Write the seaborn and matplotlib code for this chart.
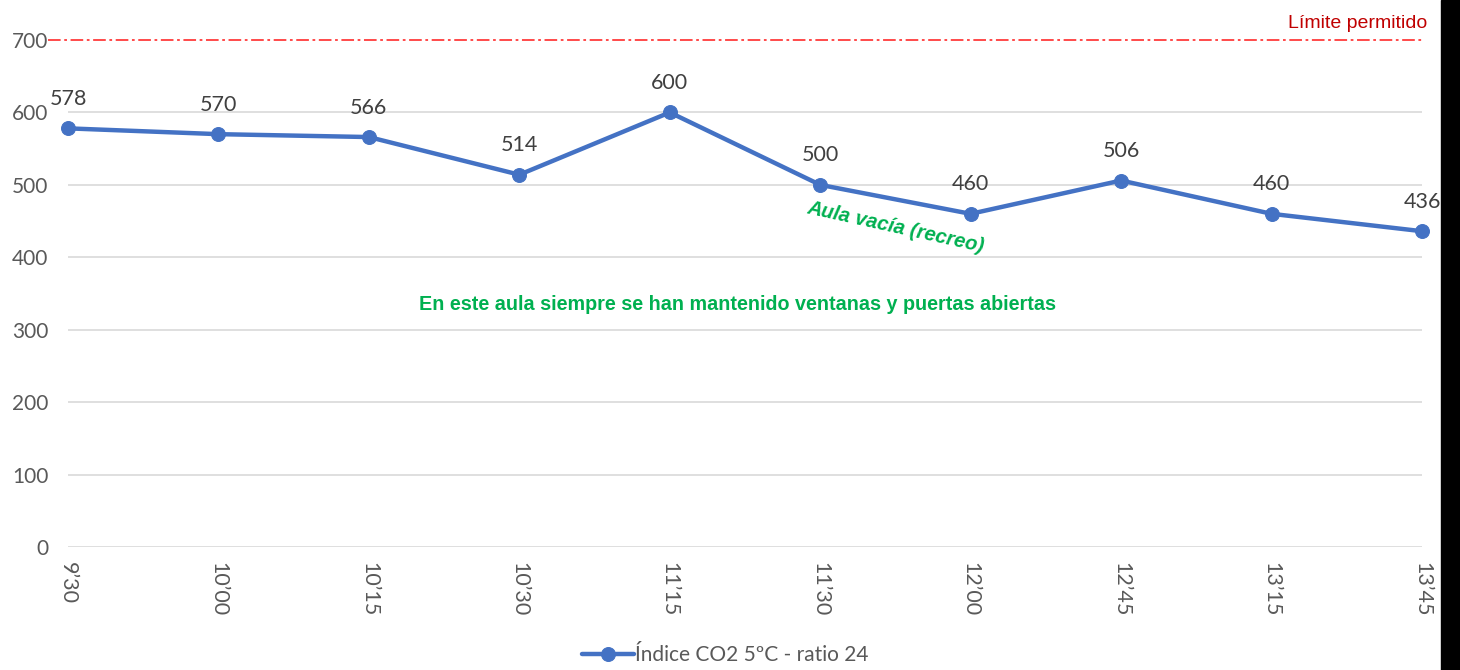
import pandas as pd
import matplotlib.pyplot as plt
import seaborn as sns
from matplotlib.patches import Rectangle

# data
horas = ["9’30", "10’00", "10’15", "10’30", "11’15", "11’30", "12’00", "12’45", "13’15", "13’45"]
co2 = [578, 570, 566, 514, 600, 500, 460, 506, 460, 436]
limite = 700
serie = "Índice CO2 5ºC - ratio 24"

df = pd.DataFrame({"pos": range(len(horas)), "ppm": co2, "serie": serie})

sns.set_style("white")
plt.rcParams['font.family'] = ['Lato', 'DejaVu Sans']

fig = plt.figure(figsize=(14.6, 6.7), dpi=100)
ax = fig.add_axes([68 / 1460, 1 - 547 / 670, (1422 - 68) / 1460, (547 - 40) / 670])

blue = "#4472C4"
grey_txt = "#595959"
arial = ['Liberation Sans', 'DejaVu Sans']

sns.lineplot(data=df, x="pos", y="ppm", ax=ax, color=blue, linewidth=3.2,
             marker="o", markersize=10, markeredgecolor=blue, label=serie,
             clip_on=False, zorder=5)

# gridlines
for v in range(0, 700, 100):
    ax.axhline(v, color="#d9d9d9", linewidth=1.2, zorder=1)

# limit line
ax.plot([-0.135, 9], [limite, limite], color="#FF3B3B", linewidth=1.3,
        linestyle=(0, (7, 2, 1.5, 2)), clip_on=False, zorder=3)
ax.text(9.035, limite + 11, "Límite permitido", color="#C00000", fontsize=14,
        family=arial, ha="right", va="bottom")

# value labels
for i, v in enumerate(co2):
    ax.annotate(str(v), (i, v), xytext=(0, 14), textcoords="offset points",
                ha="center", va="bottom", fontsize=15.5, color="#404040")

ax.set_xlim(0, 9)
ax.set_ylim(0, 700)
ax.set_xticks(range(len(horas)))
ax.set_xticklabels(horas, rotation=-90, fontsize=15.5, color=grey_txt)
ax.set_yticks(range(0, 800, 100))
ax.set_yticklabels([str(v) for v in range(0, 800, 100)], fontsize=15, color=grey_txt)
ax.tick_params(axis="x", length=0, pad=11)
ax.tick_params(axis="y", length=0, pad=14)
ax.set_xlabel("")
ax.set_ylabel("")
for s in ax.spines.values():
    s.set_visible(False)

# annotations
ax.text(5.5, 442, "Aula vacía (recreo)", color="#00B050", fontsize=14.5,
        fontweight="bold", fontstyle="italic", rotation=-12.5,
        family=arial, ha="center", va="center")
ax.text(4.45, 335, "En este aula siempre se han mantenido ventanas y puertas abiertas",
        color="#00B050", fontsize=14.2, fontweight="bold",
        family=arial, ha="center", va="center")

leg = ax.legend(loc="center", bbox_to_anchor=(725 / 1460, 1 - 655 / 670),
                bbox_transform=fig.transFigure, frameon=False, fontsize=15,
                handlelength=2.5, handletextpad=0.05)
for t in leg.get_texts():
    t.set_color(grey_txt)

# black band on the right edge
fig.patches.append(Rectangle((1441 / 1460, 0), 19 / 1460, 1, transform=fig.transFigure,
                             color="black", zorder=10))

fig.savefig("out.png", dpi=100)
